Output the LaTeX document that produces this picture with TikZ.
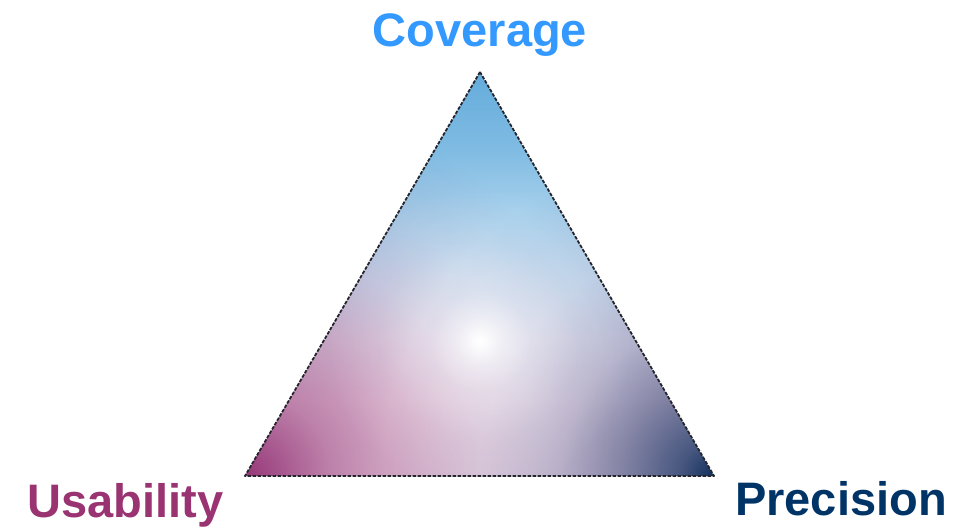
\documentclass[tikz,border=0pt]{standalone}
\usepackage{fontspec}
\setmainfont{Liberation Sans}
\definecolor{covblue}{HTML}{3399FF}
\definecolor{usacol}{HTML}{993372}
\definecolor{precol}{HTML}{003366}
\definecolor{edgecol}{HTML}{25252D}
\pgfdeclareverticalshading{blueV}{100bp}{rgb(0bp)=(1,1,1); rgb(25bp)=(1,1,1); rgb(34.1bp)=(0.939,0.968,0.986); rgb(44.2bp)=(0.8,0.893,0.955); rgb(50.9bp)=(0.696,0.838,0.932); rgb(55.5bp)=(0.623,0.8,0.915); rgb(63.1bp)=(0.501,0.734,0.888); rgb(75bp)=(0.392,0.675,0.863); rgb(100bp)=(0.392,0.675,0.863)}
\pgfdeclareradialshading{magR}{\pgfpoint{0bp}{0bp}}{rgb(0bp)=(0.588,0.216,0.471); rgb(5.6bp)=(0.74,0.506,0.667); rgb(10.2bp)=(0.823,0.663,0.773); rgb(15.5bp)=(0.918,0.843,0.894); rgb(19.7bp)=(0.97,0.94,0.96); rgb(25bp)=(1,1,1); rgb(50bp)=(1,1,1)}
\pgfdeclareradialshading{navyR}{\pgfpoint{0bp}{0bp}}{rgb(0bp)=(0.063,0.188,0.369); rgb(2.6bp)=(0.28,0.34,0.50); rgb(7.1bp)=(0.52,0.52,0.65); rgb(11.7bp)=(0.74,0.72,0.81); rgb(17.7bp)=(0.91,0.90,0.94); rgb(25bp)=(1,1,1); rgb(50bp)=(1,1,1)}
\pgfdeclareradialshading{glowS}{\pgfpoint{0bp}{0bp}}{rgb(0bp)=(1,1,1); rgb(4.17bp)=(0.58,0.58,0.58); rgb(8.33bp)=(0.3,0.3,0.3); rgb(16.7bp)=(0.08,0.08,0.08); rgb(25bp)=(0,0,0); rgb(50bp)=(0,0,0)}
\tikzset{
  lab/.style={font=\fontsize{47}{50}\selectfont\bfseries, inner sep=0pt, anchor=base},
  triborder/.style={draw=edgecol, line width=1.8pt, dash pattern=on 3.5pt off 1.5pt, line join=round}
}
\begin{document}
\begin{tikzpicture}[x=1pt,y=-1pt]
\useasboundingbox (0,0) rectangle (965,531);
\coordinate (A) at (480,72);
\coordinate (BL) at (245,476);
\coordinate (BR) at (714,476);
\coordinate (C) at (480,341);
\begin{scope}
  \clip (A) -- (BL) -- (BR) -- cycle;
  \fill[white] (245,72) rectangle (714,476);
  \begin{scope}[blend mode=multiply]
    \shade[shading=blueV] (245,72) rectangle (714,400);
    \shade[shading=magR] (BL) circle (380pt);
    \shade[shading=navyR] (BR) circle (330pt);
  \end{scope}
  \begin{scope}[blend mode=screen]
    \shade[shading=glowS] (C) circle (150pt);
  \end{scope}
\end{scope}
\draw[triborder] (A) -- (BL) -- (BR) -- cycle;
\node[lab, text=covblue] (cov) at (480,46) {Coverage};
\node[lab, text=usacol] (usa) at (125.5,517) {Usability};
\node[lab, text=precol] (pre) at (841,515) {Precision};
\end{tikzpicture}
\end{document}
